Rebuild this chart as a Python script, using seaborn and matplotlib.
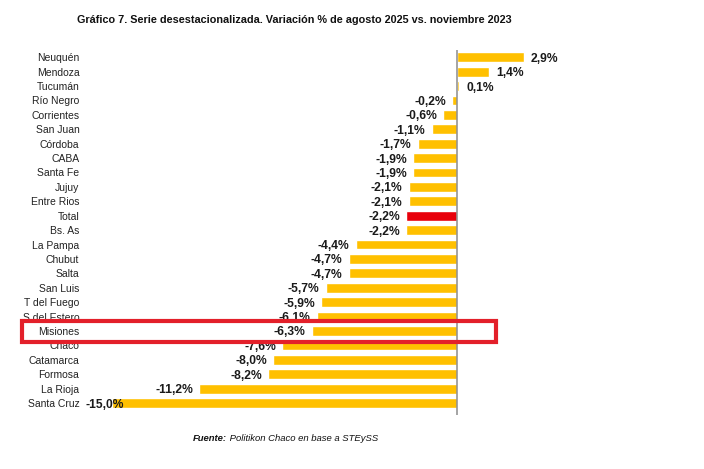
import matplotlib
matplotlib.use("Agg")
import matplotlib.pyplot as plt
import seaborn as sns
from matplotlib.patches import Rectangle

# datos
provincias = [
    "Neuquén", "Mendoza", "Tucumán", "Río Negro", "Corrientes", "San Juan",
    "Córdoba", "CABA", "Santa Fe", "Jujuy", "Entre Rios", "Total", "Bs. As",
    "La Pampa", "Chubut", "Salta", "San Luis", "T del Fuego", "S del Estero",
    "Misiones", "Chaco", "Catamarca", "Formosa", "La Rioja", "Santa Cruz",
]
variacion = [
    2.9, 1.4, 0.1, -0.2, -0.6, -1.1,
    -1.7, -1.9, -1.9, -2.1, -2.1, -2.2, -2.2,
    -4.4, -4.7, -4.7, -5.7, -5.9, -6.1,
    -6.3, -7.6, -8.0, -8.2, -11.2, -15.0,
]
destacado = "Total"
recuadro = "Misiones"

titulo = "Gráfico 7. Serie desestacionalizada. Variación % de agosto 2025 vs. noviembre 2023"
fuente_1 = "Fuente:"
fuente_2 = " Politikon Chaco en base a STEySS"

AMARILLO = "#FFC000"
ROJO = "#E8000B"

sns.set_theme(style="white")
plt.rcParams['font.family'] = ['Liberation Sans', 'DejaVu Sans']

fig = plt.figure(figsize=(7.04, 4.69), dpi=100)
ax = fig.add_axes([89 / 704, 54 / 469, 460 / 704, 365 / 469])

colores = [ROJO if p == destacado else AMARILLO for p in provincias]
sns.barplot(x=variacion, y=provincias, hue=provincias, palette=colores,
            legend=False, width=0.68, saturation=1, orient="h", ax=ax)

ax.set_xlim(-16, 4)
ax.set_ylim(len(provincias) - 0.17, -0.5)
ax.axvline(0, color="#8c8c8c", lw=1.1, zorder=3)
for s in ax.spines.values():
    s.set_visible(False)
ax.set_xticks([])
ax.set_xlabel("")
ax.set_ylabel("")
ax.tick_params(axis="y", length=0, pad=7, labelsize=7.5, labelcolor="#222222")

# etiquetas de valor
for i, v in enumerate(variacion):
    txt = f"{v:.1f}%".replace(".", ",")
    if v >= 0:
        ax.annotate(txt, (v, i), xytext=(5, 0), textcoords="offset points",
                    ha="left", va="center_baseline", fontsize=8.7,
                    fontweight="bold", color="#1a1a1a")
    else:
        ax.annotate(txt, (max(v, -14.2), i), xytext=(-4.5, 0),
                    textcoords="offset points", ha="right",
                    va="center_baseline", fontsize=8.7, fontweight="bold",
                    color="#1a1a1a")

# recuadro rojo sobre Misiones
k = provincias.index(recuadro)
ax.add_patch(Rectangle((-18.9, k - 0.68), 20.6, 1.45, fill=False,
                       edgecolor="#E3202A", lw=3, clip_on=False, zorder=5))

fig.text(77 / 704, 1 - 20 / 469, titulo, ha="left", va="center",
         fontsize=7.8, fontweight="bold", color="#111111")

t1 = fig.text(193 / 704, 1 - 438 / 469, fuente_1, ha="left", va="center",
              fontsize=6.8, fontweight="bold", style="italic",
              color="#111111")
ax.annotate(fuente_2, xy=(1, 0.5), xycoords=t1, ha="left", va="center",
            fontsize=6.8, style="italic", color="#111111",
            annotation_clip=False)

fig.savefig("out.png", dpi=100, facecolor="white")
